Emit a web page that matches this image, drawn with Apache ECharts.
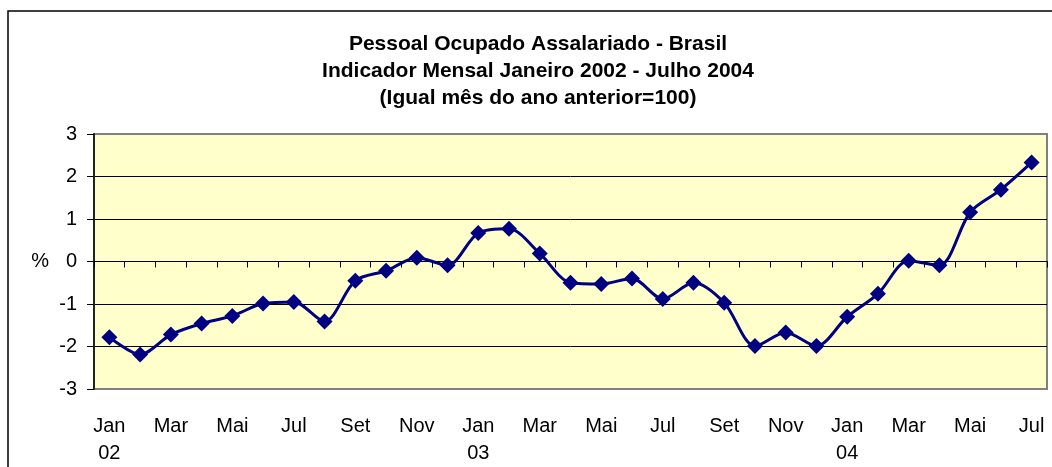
<!DOCTYPE html>
<html>
<head>
<meta charset="utf-8">
<script src="https://cdn.jsdelivr.net/npm/echarts@6/dist/echarts.min.js"></script>
<style>
  html, body { margin: 0; padding: 0; background: #fff; }
  #main { width: 1052px; height: 467px; }
</style>
</head>
<body>
<div id="main"></div>
<script>
// meses jan/2002 - jul/2004 (rótulo só nos meses ímpares)
var months = [
  'Jan\n02', 'Fev', 'Mar', 'Abr', 'Mai', 'Jun', 'Jul', 'Ago', 'Set', 'Out', 'Nov', 'Dez',
  'Jan\n03', 'Fev', 'Mar', 'Abr', 'Mai', 'Jun', 'Jul', 'Ago', 'Set', 'Out', 'Nov', 'Dez',
  'Jan\n04', 'Fev', 'Mar', 'Abr', 'Mai', 'Jun', 'Jul'
]
var indicador = [
  -1.78, -2.19, -1.72, -1.46, -1.28, -0.99, -0.95, -1.41, -0.45, -0.22, 0.09, -0.09,
  0.67, 0.77, 0.19, -0.50, -0.53, -0.40, -0.88, -0.50, -0.97, -1.99, -1.67, -1.99,
  -1.30, -0.76, 0.02, -0.09, 1.16, 1.69, 2.33
]
var yTicks = { min: -3, max: 3, step: 1 }

var chart = echarts.init(document.getElementById('main'))
var font = 'Arial, "Liberation Sans", sans-serif'

chart.setOption({
  backgroundColor: '#fff',
  animation: false,
  title: {
    text: 'Pessoal Ocupado Assalariado - Brasil\nIndicador Mensal Janeiro 2002 - Julho 2004\n(Igual mês do ano anterior=100)',
    left: 538,
    textAlign: 'center',
    top: 31,
    padding: 0,
    textStyle: {
      fontFamily: font,
      fontSize: 21,
      fontWeight: 'bold',
      color: '#000',
      lineHeight: 27
    }
  },
  graphic: [
    {
      type: 'rect',
      shape: { x: 8, y: 11, width: 1100, height: 520 },
      style: { fill: 'none', stroke: '#000', lineWidth: 1.5 },
      silent: true
    }
  ],
  grid: {
    left: 94,
    top: 134,
    width: 953,
    height: 258,
    show: true,
    backgroundColor: '#FFFFCC',
    borderColor: '#808080',
    borderWidth: 2
  },
  xAxis: [
    {
      // linha do zero com marcas
      type: 'category',
      data: months,
      position: 'top',
      axisLine: { onZero: true, lineStyle: { color: '#000', width: 1 } },
      axisTick: { show: true, inside: true, length: 6, interval: 0, lineStyle: { color: '#000' } },
      axisLabel: { show: false },
      splitLine: { show: false }
    },
    {
      // rótulos embaixo
      type: 'category',
      data: months,
      position: 'bottom',
      axisLine: { show: false, onZero: false },
      axisTick: { show: false },
      axisLabel: {
        interval: 1,
        margin: 24,
        fontFamily: font,
        fontSize: 20,
        lineHeight: 27,
        color: '#000'
      }
    }
  ],
  yAxis: {
    type: 'value',
    min: yTicks.min,
    max: yTicks.max,
    interval: yTicks.step,
    name: '%',
    nameLocation: 'middle',
    nameRotate: 0,
    nameGap: 45,
    nameTextStyle: { fontFamily: font, fontSize: 20, color: '#000' },
    axisLine: { show: true, lineStyle: { color: '#222', width: 2 } },
    axisTick: { show: true, length: 7, lineStyle: { color: '#000' } },
    axisLabel: { margin: 17, fontFamily: font, fontSize: 20, color: '#000' },
    splitLine: { show: true, showMinLine: false, showMaxLine: false, lineStyle: { color: '#000', width: 1 } }
  },
  series: [
    {
      type: 'line',
      xAxisIndex: 0,
      data: indicador,
      smooth: 0.3,
      symbol: 'diamond',
      symbolSize: 16,
      lineStyle: { color: '#000080', width: 3 },
      itemStyle: { color: '#000080' }
    }
  ]
})
</script>
</body>
</html>
